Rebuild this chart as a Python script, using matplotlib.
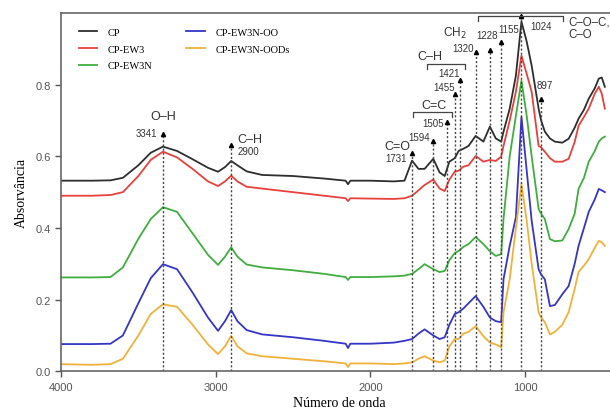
import matplotlib
matplotlib.use("Agg")
import matplotlib.pyplot as plt

# wavenumber grid (cm-1) and absorbance
wavenumber = [4000, 3800, 3680, 3600, 3500, 3420, 3341, 3250, 3150, 3050,
              2985, 2940, 2900, 2860, 2800, 2700, 2500, 2300, 2160, 2145,
              2130, 2000, 1850, 1780, 1731, 1690, 1650, 1594, 1553, 1520,
              1490, 1455, 1430, 1400, 1366, 1320, 1270, 1228, 1190, 1155,
              1140, 1100, 1060, 1024, 990, 958, 913, 897, 873, 840,
              808, 760, 719, 680, 655, 620, 589, 550, 524, 505, 485]

cp = [0.532, 0.532, 0.533, 0.540, 0.575, 0.610, 0.627, 0.615, 0.592, 0.568,
      0.557, 0.570, 0.587, 0.575, 0.558, 0.548, 0.545, 0.538, 0.532, 0.522,
      0.532, 0.532, 0.530, 0.532, 0.588, 0.565, 0.565, 0.593, 0.555, 0.545,
      0.585, 0.595, 0.615, 0.621, 0.629, 0.657, 0.641, 0.683, 0.650, 0.641,
      0.669, 0.733, 0.825, 0.976, 0.920, 0.853, 0.733, 0.700, 0.669, 0.650,
      0.641, 0.638, 0.649, 0.680, 0.705, 0.730, 0.761, 0.790, 0.817, 0.820, 0.794]

cp_ew3 = [0.490, 0.490, 0.492, 0.500, 0.545, 0.590, 0.613, 0.597, 0.565, 0.530,
          0.517, 0.530, 0.546, 0.530, 0.515, 0.510, 0.500, 0.490, 0.483, 0.475,
          0.483, 0.482, 0.481, 0.483, 0.490, 0.505, 0.520, 0.535, 0.510, 0.503,
          0.535, 0.557, 0.560, 0.571, 0.575, 0.601, 0.585, 0.590, 0.587, 0.599,
          0.629, 0.700, 0.780, 0.881, 0.830, 0.780, 0.629, 0.625, 0.613, 0.595,
          0.585, 0.585, 0.593, 0.640, 0.685, 0.710, 0.733, 0.775, 0.794, 0.775, 0.733]

cp_ew3n = [0.262, 0.262, 0.263, 0.290, 0.370, 0.425, 0.458, 0.445, 0.385, 0.325,
           0.297, 0.320, 0.346, 0.320, 0.298, 0.290, 0.282, 0.272, 0.263, 0.255,
           0.263, 0.263, 0.265, 0.267, 0.272, 0.285, 0.299, 0.285, 0.277, 0.280,
           0.310, 0.330, 0.336, 0.347, 0.355, 0.375, 0.355, 0.335, 0.322, 0.327,
           0.425, 0.600, 0.713, 0.811, 0.713, 0.600, 0.453, 0.440, 0.425, 0.369,
           0.363, 0.365, 0.397, 0.440, 0.509, 0.540, 0.585, 0.615, 0.641, 0.650, 0.655]

cp_ew3n_oo = [0.076, 0.076, 0.077, 0.100, 0.190, 0.260, 0.299, 0.285, 0.220, 0.150,
              0.113, 0.140, 0.171, 0.140, 0.115, 0.103, 0.095, 0.085, 0.077, 0.065,
              0.077, 0.077, 0.080, 0.085, 0.090, 0.105, 0.117, 0.100, 0.090, 0.095,
              0.130, 0.160, 0.165, 0.175, 0.190, 0.210, 0.180, 0.150, 0.140, 0.137,
              0.257, 0.350, 0.430, 0.710, 0.560, 0.420, 0.285, 0.270, 0.257, 0.182,
              0.185, 0.215, 0.238, 0.300, 0.350, 0.400, 0.445, 0.480, 0.509, 0.505, 0.500]

cp_ew3n_oods = [0.020, 0.018, 0.020, 0.035, 0.100, 0.160, 0.187, 0.180, 0.130, 0.075,
                0.048, 0.070, 0.099, 0.070, 0.050, 0.042, 0.035, 0.028, 0.022, 0.012,
                0.022, 0.022, 0.020, 0.022, 0.025, 0.035, 0.042, 0.030, 0.025, 0.030,
                0.070, 0.090, 0.090, 0.105, 0.110, 0.126, 0.098, 0.080, 0.075, 0.067,
                0.165, 0.257, 0.400, 0.523, 0.420, 0.300, 0.165, 0.150, 0.137, 0.103,
                0.110, 0.130, 0.165, 0.230, 0.277, 0.295, 0.313, 0.345, 0.364, 0.360, 0.350]

labels = ["CP", "CP-EW3", "CP-EW3N", "CP-EW3N-OO", "CP-EW3N-OODs"]
colors = ["#2e2e2e", "#e8413c", "#3fae3f", "#3535c8", "#f2b13a"]

# band positions and the height of their markers
bands = [3341, 2900, 1731, 1594, 1505, 1455, 1421, 1320, 1228, 1155, 1024, 897]
band_tops = [0.663, 0.632, 0.610, 0.643, 0.696, 0.775, 0.814, 0.892, 0.898, 0.918, 0.993, 0.760]

fig = plt.figure(figsize=(6.1, 4.1), dpi=100)
ax = fig.add_axes([61 / 610, 37.7 / 410, 557 / 610, 358.3 / 410])

for y, lab, c in zip([cp, cp_ew3, cp_ew3n, cp_ew3n_oo, cp_ew3n_oods], labels, colors):
    ax.plot(wavenumber, y, color=c, linewidth=1.3, label=lab)

# dotted guide lines with small arrow heads
for b, t in zip(bands, band_tops):
    ax.plot([b, b], [0, t], color="#444444", linestyle=(0, (1.5, 1.5)), linewidth=1.0)
    ax.plot(b, t, marker="^", color="black", markersize=3)

sans = "Liberation Sans"
txt = dict(family=sans, fontsize=7, color="#333333")
big = dict(family=sans, fontsize=9, color="#333333")

ax.text(3341, 0.712, "O–H", ha="center", va="center", **big)
ax.text(3380, 0.665, "3341", ha="right", va="center", **txt)
ax.text(2860, 0.648, "C–H", ha="left", va="center", **big)
ax.text(2860, 0.614, "2900", ha="left", va="center", **txt)
ax.text(1744, 0.629, "C=O", ha="right", va="center", **big)
ax.text(1763, 0.595, "1731", ha="right", va="center", **txt)
ax.text(1615, 0.654, "1594", ha="right", va="center", **txt)
ax.text(1524, 0.693, "1505", ha="right", va="center", **txt)
ax.text(1453, 0.794, "1455", ha="right", va="center", **txt)
ax.text(1421, 0.833, "1421", ha="right", va="center", **txt)
ax.text(1330, 0.902, "1320", ha="right", va="center", **txt)
ax.text(1249, 0.939, "1228", ha="center", va="center", **txt)
ax.text(1104, 0.955, "1155", ha="center", va="center", **txt)
ax.text(968, 0.964, "1024", ha="left", va="center", **txt)
ax.text(925, 0.799, "897", ha="left", va="center", **txt)
ax.text(1531, 0.947, "CH$_2$", ha="left", va="center", family=sans, fontsize=8.5, color="#333333")
ax.text(722, 0.975, "C–O–C,", ha="left", va="center", family=sans, fontsize=8.3, color="#333333")
ax.text(722, 0.941, "C–O", ha="left", va="center", family=sans, fontsize=8.3, color="#333333")

# brackets
def bracket(x0, x1, y, label, lx, ly):
    ax.plot([x0, x0, x1, x1], [y - 0.014, y, y, y - 0.014], color="#444444", linewidth=0.9)
    ax.text(lx, ly, label, ha="center", va="center", **big)

bracket(1725, 1473, 0.723, "C=C", 1586, 0.742)
bracket(1634, 1388, 0.858, "C–H", 1615, 0.880)
ax.plot([1304, 1304, 755, 755], [0.978, 0.992, 0.992, 0.978], color="#444444", linewidth=0.9)

ax.set_xlim(4000, 400)
ax.set_ylim(0, 1.0)
ax.set_xticks([4000, 3000, 2000, 1000])
ax.set_yticks([0.0, 0.2, 0.4, 0.6, 0.8])
ax.set_yticklabels(["0.0", "0.2", "0.4", "0.6", "0.8"])
ax.tick_params(colors="#555555", labelsize=8, length=4, width=1)
for lab in ax.get_xticklabels() + ax.get_yticklabels():
    lab.set_family(sans)
for s in ax.spines.values():
    s.set_color("#666666")
    s.set_linewidth(1.2)

ax.set_xlabel("Número de onda", family="Liberation Serif", fontsize=10, labelpad=3)
ax.set_ylabel("Absorvância", family="Liberation Serif", fontsize=10, labelpad=5)

ax.legend(loc="upper left", bbox_to_anchor=(0.015, 0.985), ncol=2, frameon=False,
          prop={"family": "Liberation Serif", "size": 7.5}, handlelength=1.8,
          handletextpad=1.0, columnspacing=3.2, labelspacing=0.7)

fig.savefig("out.png", dpi=100)
